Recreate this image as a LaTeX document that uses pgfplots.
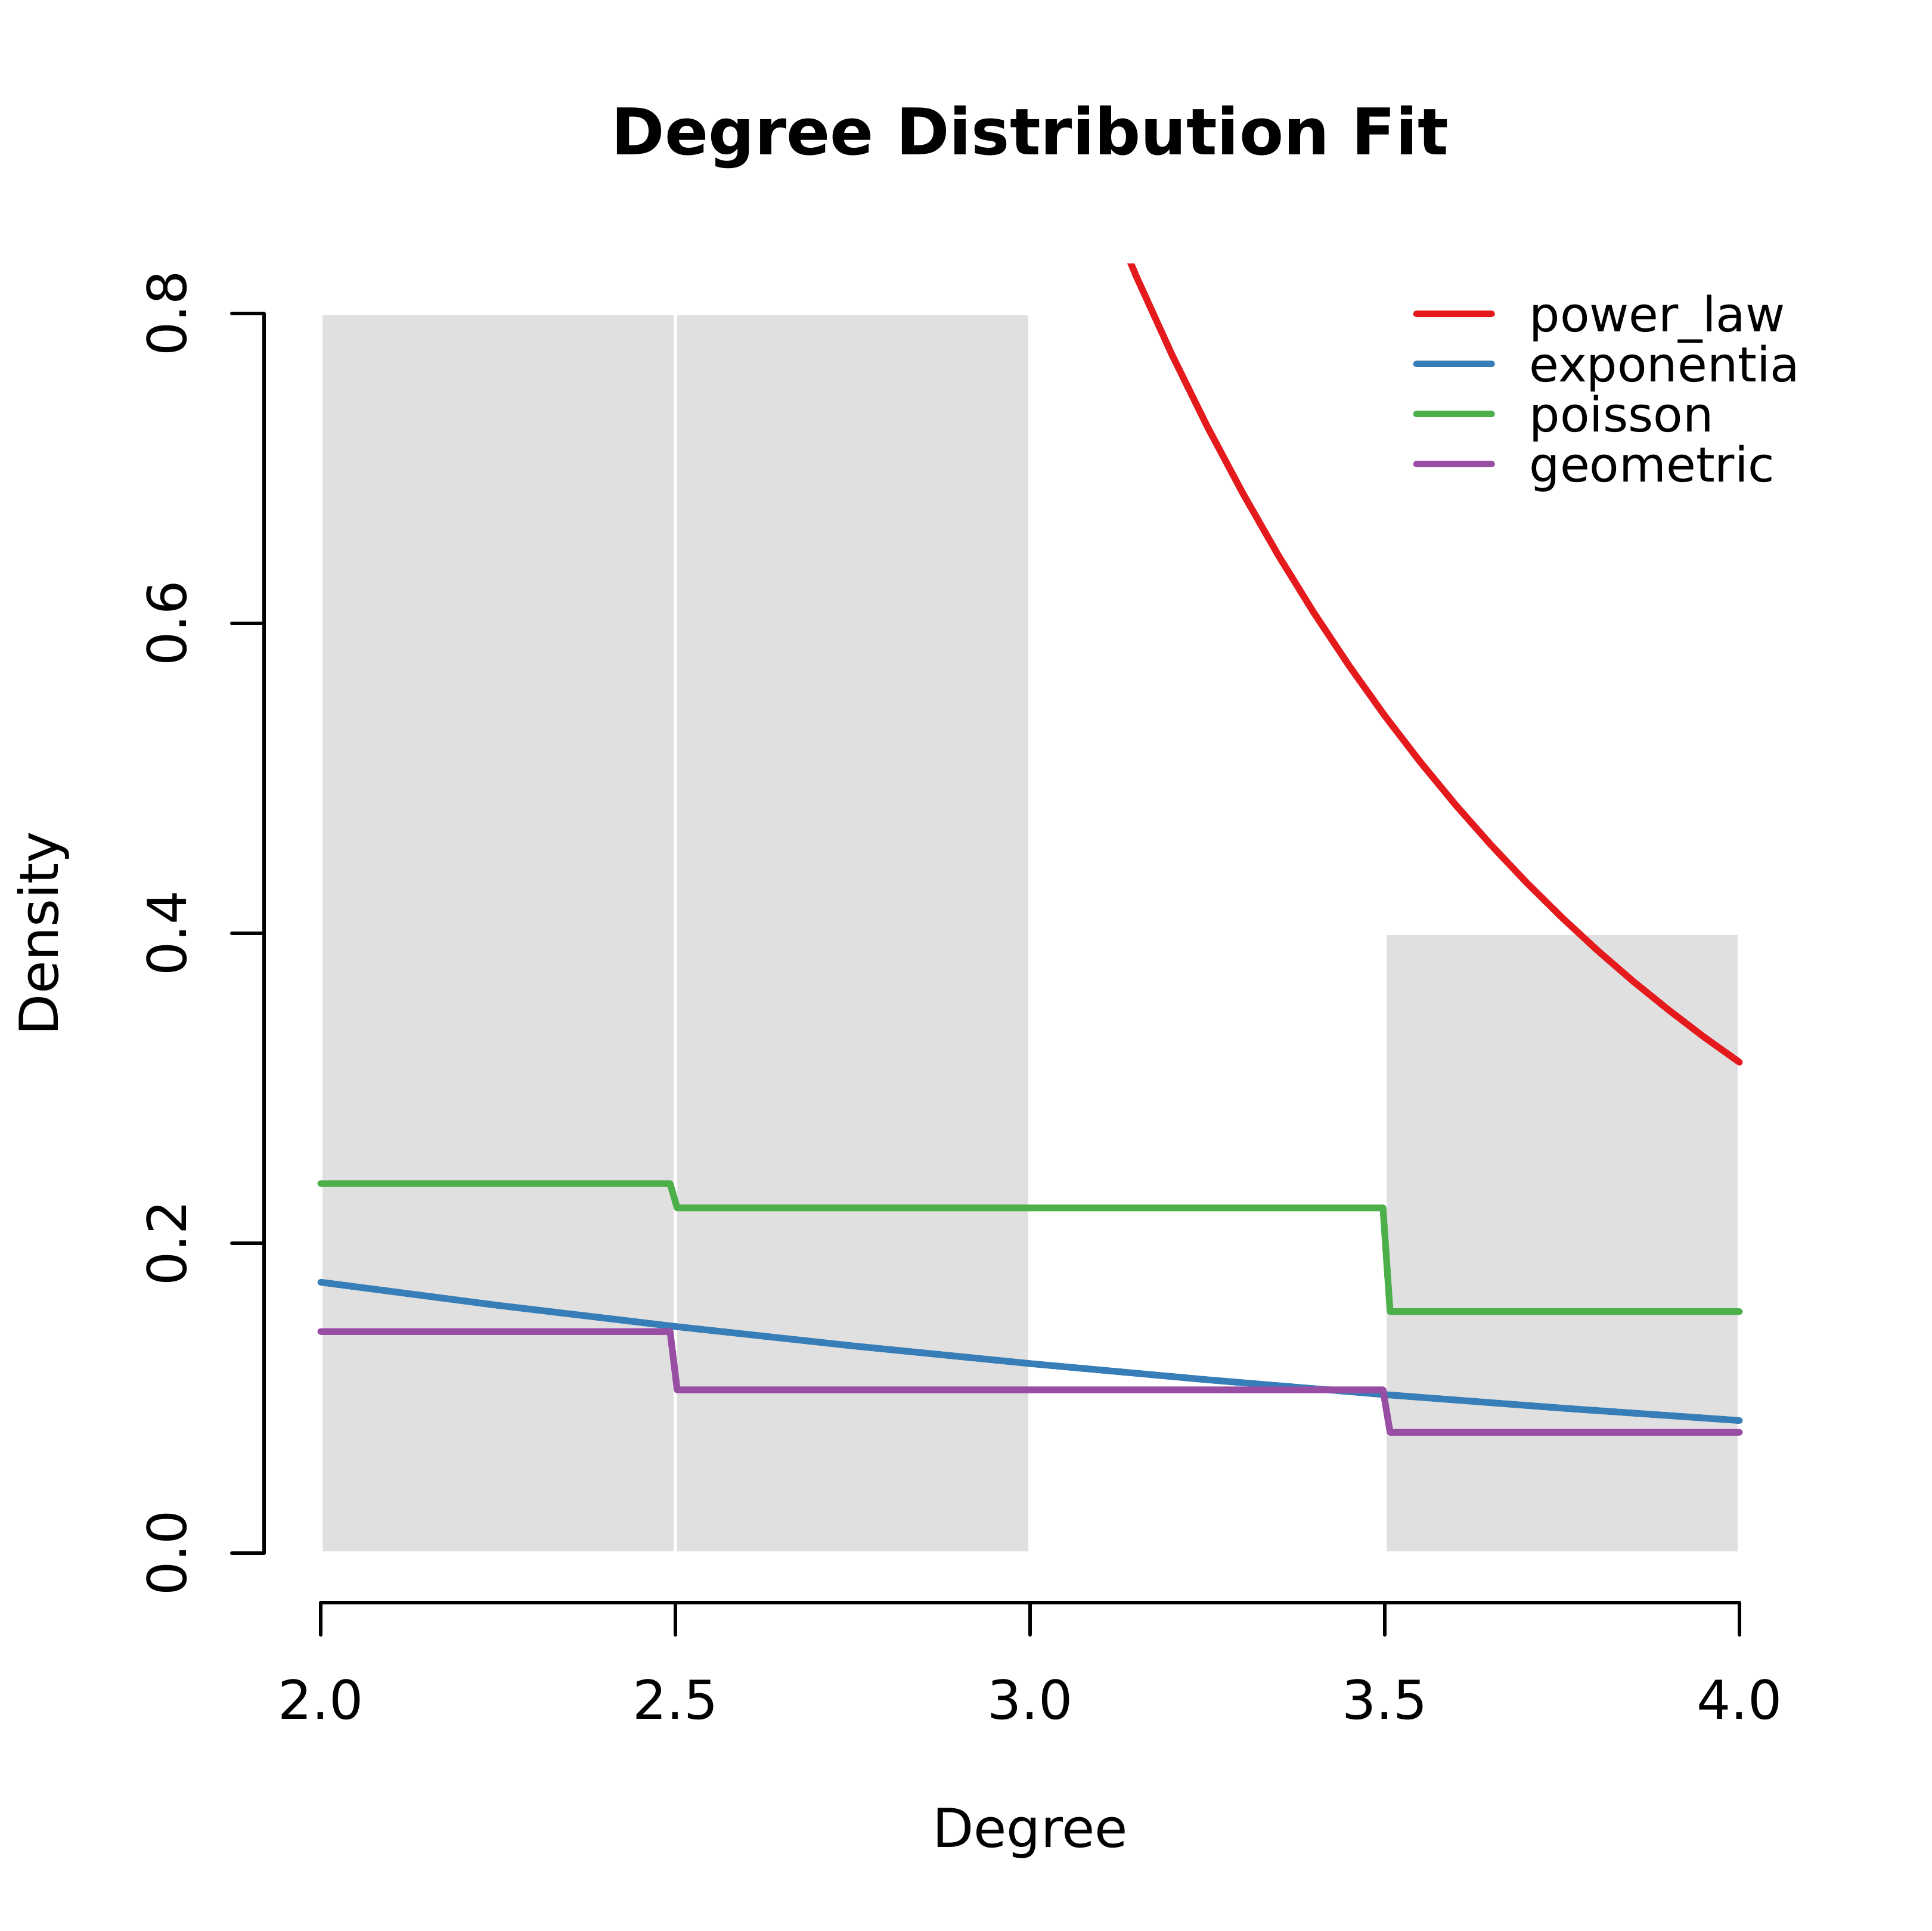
\documentclass[border=0pt]{standalone}
\usepackage{fontspec}
\setmainfont{DejaVu Sans}
\usepackage{pgfplots}
\pgfplotsset{compat=1.18}
\definecolor{cred}{HTML}{E41A1C}
\definecolor{cblue}{HTML}{377EB8}
\definecolor{cgreen}{HTML}{4DAF4A}
\definecolor{cpurple}{HTML}{984EA3}
\definecolor{histgray}{HTML}{E0E0E0}
\begin{document}
\begin{tikzpicture}
\useasboundingbox (0,0) rectangle (432pt,432pt);
\begin{axis}[
  at={(59.04pt,73.44pt)}, anchor=south west,
  scale only axis, width=342.72pt, height=299.52pt,
  xmin=1.92, xmax=4.08, ymin=-0.032, ymax=0.832,
  axis line style={draw=none},
  clip mode=individual,
  xtick={2,2.5,3,3.5,4}, xticklabels={2.0,2.5,3.0,3.5,4.0},
  ytick={0,0.2,0.4,0.6,0.8}, yticklabels={0.0,0.2,0.4,0.6,0.8},
  tick pos=left,
  tick align=outside, major tick length=7.2pt,
  tick style={black, line width=0.75pt, line cap=round},
  /pgf/number format/assume math mode=true,
  xticklabel style={anchor=base, inner sep=0pt, font=\fontsize{12}{14}\selectfont},
  yticklabel style={rotate=90, anchor=base, inner sep=0pt, font=\fontsize{12}{14}\selectfont},
  xticklabel shift=18.9pt, yticklabel shift=10.13pt,
  title={Degree Distribution Fit},
  every axis title shift=0pt,
  title style={at={(axis description cs:0.5,1)}, anchor=base, yshift=24.5pt, inner sep=0pt, font=\bfseries\fontsize{14.4}{17}\selectfont},
  xlabel={Degree},
  xlabel style={at={(axis description cs:0.5,0)}, anchor=base, yshift=-54.64pt, inner sep=0pt, font=\fontsize{12}{14}\selectfont},
  ylabel={Density},
  ylabel style={at={([xshift=-46.1pt]axis description cs:0,0.5)}, rotate=0, anchor=base, inner sep=0pt, font=\fontsize{12}{14}\selectfont},
  legend style={draw=none, fill=none, inner sep=0pt, outer sep=0pt,
    at={(0.7500,0.98135)}, anchor=north west, row sep=0pt, column sep=7.7pt,
    font=\fontsize{10.8}{13}\selectfont,
    nodes={inner sep=0pt, text height=9.54pt, text depth=1.66pt}},
  legend cell align=left,
  legend image code/.code={\draw[#1] (0pt,0pt) -- (16.8pt,0pt);},
]
% histogram bars
\addplot[forget plot, fill=histgray, draw=white, line width=0.75pt] coordinates {(2,0) (2,0.8) (2.5,0.8) (2.5,0)} -- cycle;
\addplot[forget plot, fill=histgray, draw=white, line width=0.75pt] coordinates {(2.5,0) (2.5,0.8) (3,0.8) (3,0)} -- cycle;
\addplot[forget plot, fill=histgray, draw=white, line width=0.75pt] coordinates {(3.5,0) (3.5,0.4) (4,0.4) (4,0)} -- cycle;
% power law
\addplot[cred, line width=1.5pt, line join=round, line cap=round] coordinates {
 (3.10,0.8782) (3.15,0.8237) (3.20,0.7734) (3.25,0.7269) (3.30,0.6839) (3.35,0.6439)
 (3.40,0.6069) (3.45,0.5725) (3.50,0.5404) (3.55,0.5106) (3.60,0.4828) (3.65,0.4569)
 (3.70,0.4327) (3.75,0.4101) (3.80,0.3889) (3.85,0.3691) (3.90,0.3506) (3.95,0.3331)
 (4.00,0.3168)};
\addlegendentry{power\_law}
% exponential
\addplot[cblue, line width=1.5pt, line join=round, line cap=round] coordinates {
 (2.00,0.17484) (2.25,0.15990) (2.50,0.14625) (2.75,0.13376) (3.00,0.12233)
 (3.25,0.11188) (3.50,0.10232) (3.75,0.09358) (4.00,0.08559)};
\addlegendentry{exponentia}
% poisson
\addplot[cgreen, line width=1.5pt, line join=round, line cap=round] coordinates {
 (2,0.2385) (2.4925,0.2385) (2.5025,0.2228) (3.4975,0.2228) (3.5075,0.1559) (4,0.1559)};
\addlegendentry{poisson}
% geometric
\addplot[cpurple, line width=1.5pt, line join=round, line cap=round] coordinates {
 (2,0.1430) (2.4925,0.1430) (2.5025,0.1054) (3.4975,0.1054) (3.5075,0.0780) (4,0.0780)};
\addlegendentry{geometric}
% axis lines (R style, offset)
\draw[black, line width=0.75pt, line cap=round] (axis cs:2,-0.032) -- (axis cs:4,-0.032);
\draw[black, line width=0.75pt, line cap=round] (axis cs:1.92,0) -- (axis cs:1.92,0.8);
\end{axis}
\end{tikzpicture}
\end{document}
